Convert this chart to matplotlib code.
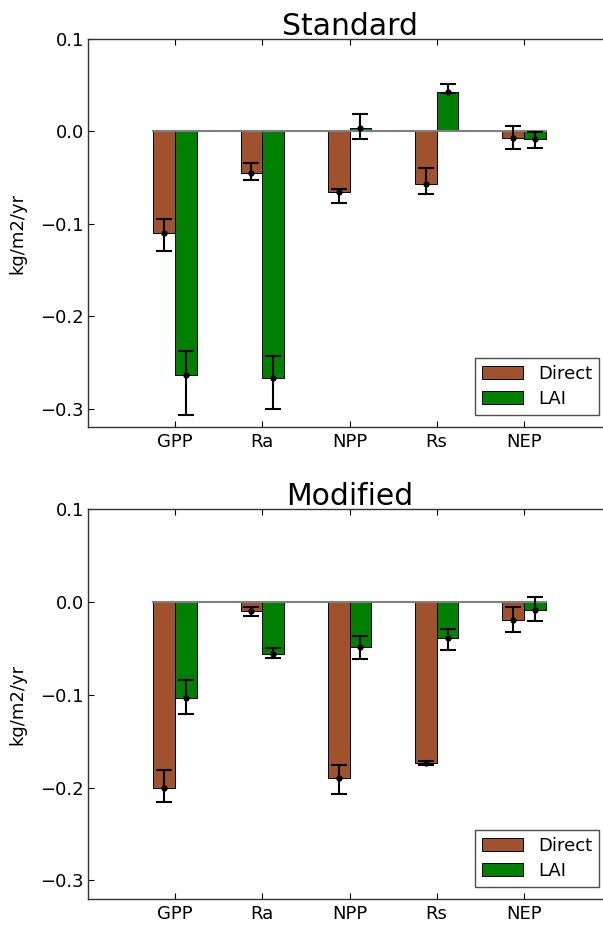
import numpy as np
import matplotlib
matplotlib.use("Agg")
import matplotlib.pyplot as plt

categories = ["GPP", "Ra", "NPP", "Rs", "NEP"]

# Standard run: bar values and error-bar bounds (kg/m2/yr)
std_direct = [-0.110, -0.045, -0.066, -0.057, -0.007]
std_direct_lo = [-0.130, -0.053, -0.077, -0.068, -0.019]
std_direct_hi = [-0.095, -0.034, -0.062, -0.040, 0.006]
std_lai = [-0.264, -0.267, 0.004, 0.043, -0.008]
std_lai_lo = [-0.307, -0.300, -0.008, 0.042, -0.0175]
std_lai_hi = [-0.238, -0.243, 0.019, 0.051, -0.001]

# Modified run
mod_direct = [-0.200, -0.010, -0.190, -0.173, -0.019]
mod_direct_lo = [-0.215, -0.015, -0.207, -0.176, -0.032]
mod_direct_hi = [-0.181, -0.006, -0.1755, -0.171, -0.005]
mod_lai = [-0.104, -0.056, -0.049, -0.039, -0.009]
mod_lai_lo = [-0.121, -0.060, -0.062, -0.052, -0.021]
mod_lai_hi = [-0.084, -0.050, -0.037, -0.029, 0.0055]

yticks = [-0.3, -0.2, -0.1, 0.0, 0.1]

plt.rcParams["font.family"] = ["DejaVu Sans"]
plt.rcParams["axes.unicode_minus"] = True

W = 0.25
DIRECT_COLOR = "#a0522d"
LAI_COLOR = "#008000"
FS = 13

fig = plt.figure(figsize=(6.03, 9.25), dpi=100, facecolor="white")


def panel(rect, title, direct, d_lo, d_hi, lai, l_lo, l_hi):
    ax = fig.add_axes(rect)
    x = np.arange(len(categories))
    direct = np.array(direct)
    lai = np.array(lai)
    ax.bar(x - W, direct, W, align="edge", color=DIRECT_COLOR,
           edgecolor="black", linewidth=0.7, label="Direct", zorder=2)
    ax.bar(x, lai, W, align="edge", color=LAI_COLOR,
           edgecolor="black", linewidth=0.7, label="LAI", zorder=2)
    d_err = [direct - np.array(d_lo), np.array(d_hi) - direct]
    l_err = [lai - np.array(l_lo), np.array(l_hi) - lai]
    ax.errorbar(x - W / 2, direct, yerr=d_err, fmt="o", color="black",
                markersize=3.5, elinewidth=1.5, capsize=6, capthick=1.5, zorder=4)
    ax.errorbar(x + W / 2, lai, yerr=l_err, fmt="o", color="black",
                markersize=3.5, elinewidth=1.5, capsize=6, capthick=1.5, zorder=4)
    ax.plot([x[0] - W, x[-1] + W], [0, 0], color="#808080", lw=1.5, zorder=3)
    ax.set_xlim(-1, 5)
    ax.set_ylim(-0.32, 0.1)
    ax.set_xticks(x)
    ax.set_xticklabels(categories)
    ax.set_yticks(yticks)
    ax.set_yticklabels(["%.1f" % v if v >= 0 else "\u2212%.1f" % abs(v) for v in yticks])
    ax.tick_params(direction="in", top=True, right=True, length=4,
                   labelsize=FS, colors="black")
    ax.tick_params(axis="x", pad=4)
    ax.tick_params(axis="y", pad=3)
    for s in ax.spines.values():
        s.set_color("#333333")
        s.set_linewidth(1.0)
    ax.set_ylabel("kg/m2/yr", fontsize=FS, labelpad=10)
    ax.set_title(title, fontsize=21.5, pad=3)
    leg = ax.legend(loc="lower right", fontsize=FS, fancybox=False,
                    handlelength=2.3, handleheight=0.72, handletextpad=0.8,
                    labelspacing=0.4, borderpad=0.4, borderaxespad=0.65,
                    frameon=True)
    leg.get_frame().set_edgecolor("#222222")
    leg.get_frame().set_linewidth(1.0)
    return ax


panel([88 / 603, 1 - 427 / 925, 523 / 603, 388 / 925], "Standard",
      std_direct, std_direct_lo, std_direct_hi, std_lai, std_lai_lo, std_lai_hi)
panel([88 / 603, 1 - 899 / 925, 523 / 603, 390 / 925], "Modified",
      mod_direct, mod_direct_lo, mod_direct_hi, mod_lai, mod_lai_lo, mod_lai_hi)

fig.savefig("out.png", dpi=100, facecolor="white")
